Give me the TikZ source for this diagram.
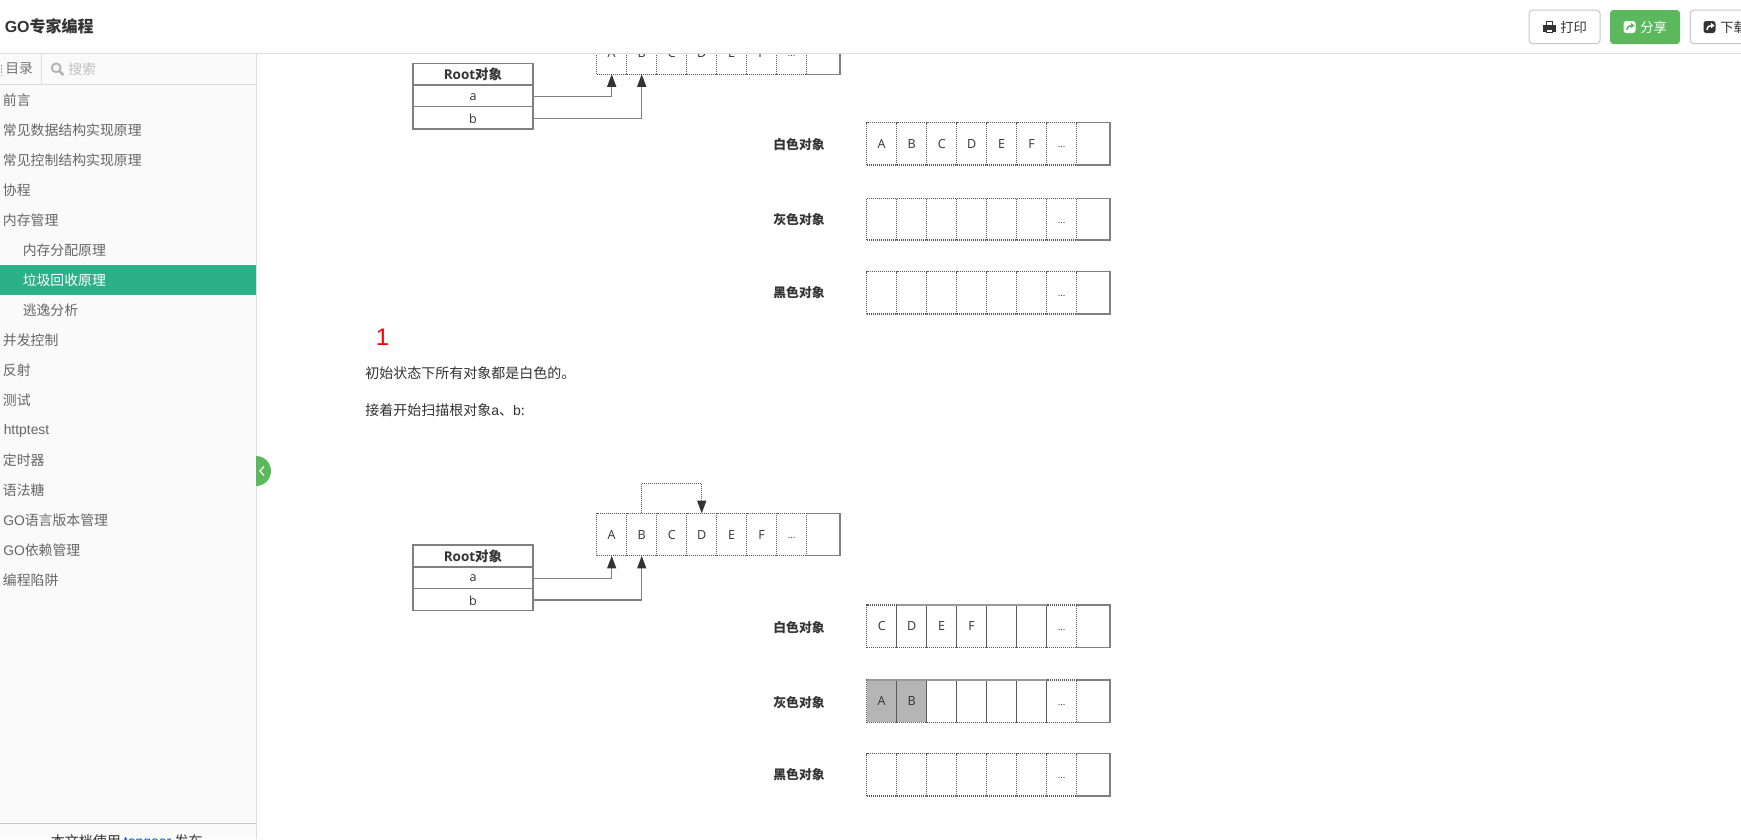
\documentclass[tikz,border=0pt]{standalone}
\usepackage{fontspec}
\setmainfont{Noto Sans CJK SC}
\newfontfamily\lat{Liberation Sans}
\newfontfamily\dia{Open Sans}
\usetikzlibrary{arrows.meta}
\definecolor{txt}{HTML}{333333}
\definecolor{side}{HTML}{FAFAFA}
\definecolor{sidetxt}{HTML}{666666}
\definecolor{rule}{HTML}{DDDDDD}
\definecolor{teal}{HTML}{2CB088}
\definecolor{okgreen}{HTML}{5CB85C}
\definecolor{frame}{HTML}{808080}
\definecolor{lightframe}{HTML}{999999}
\definecolor{dots}{HTML}{5A5A5A}
\definecolor{shade}{HTML}{B5B5B5}
\tikzset{
  cellbase/.style={anchor=north west,inner sep=0pt,outer sep=0pt,text=txt,font=\dia\fontsize{9.4}{11}\selectfont},
  dotcell/.style={cellbase,draw=dots,line width=0.85pt,dash pattern=on 0.8pt off 0.7pt,minimum width=22.5pt},
  graycell/.style={dotcell,fill=shade},
  endcell/.style={cellbase,minimum width=24.9pt},
  endline/.style={draw=frame,line width=0.95pt},
  rootbox/.style={anchor=north west,inner sep=0pt,outer sep=0pt,draw=frame,line width=0.95pt,minimum width=90pt,text=txt},
  ref/.style={draw=frame,line width=0.95pt,-{Triangle[length=9.5pt,width=6.8pt,color=txt]}},
  dotref/.style={draw=dots,line width=0.85pt,dash pattern=on 0.8pt off 0.7pt,-{Triangle[length=9.5pt,width=6.8pt,color=txt]}},
  topline/.style={draw=lightframe,line width=0.95pt},
  rowlabel/.style={inner sep=0pt,text=txt,font=\bfseries\fontsize{9.6}{11}\selectfont},
  item/.style={anchor=west,inner sep=0pt,text=sidetxt,font=\fontsize{10.4}{12}\selectfont},
  para/.style={anchor=west,inner sep=0pt,text=txt,font=\fontsize{10.5}{12}\selectfont},
  btn/.style={draw=#1,rounded corners=2.5pt,line width=0.75pt},
  btntxt/.style={anchor=west,inner sep=0pt,font=\fontsize{10}{12}\selectfont}
}
\newcommand\ellip{{\fontsize{7}{8}\selectfont\rule{0pt}{6pt}...}}
% #1 number of grey cells, #2 name, #3 left x, #4 top y, #5 height px, #6 labels
\newcommand\objrow[6][0]{%
  \foreach \t [count=\i from 0] in {#6}{%
    \pgfmathsetmacro\xx{#3+30*\i}
    \ifnum\i=7
      \node[endcell,minimum height=#5*0.75pt] (#2\i) at (\xx,#4) {\t};
      \draw[endline] (#2\i.north west) -- (#2\i.north east) -- (#2\i.south east) -- (#2\i.south west);
    \else\ifnum\i<#1
      \node[graycell,minimum height=#5*0.75pt] (#2\i) at (\xx,#4) {\t};
    \else
      \node[dotcell,minimum height=#5*0.75pt] (#2\i) at (\xx,#4) {\t};
    \fi\fi
  }%
}
% #1 prefix, #2 top y of root box
\newcommand\rootgroup[2]{%
  \node[rootbox,minimum height=16.4pt,font=\bfseries\fontsize{10.1}{11}\selectfont] (#1root) at (413,#2) {\dia\bfseries Root\normalfont\bfseries 对象};
  \node[rootbox,minimum height=16.2pt,text height=6.6pt,text depth=0pt,font=\dia\fontsize{9.4}{11}\selectfont] (#1a) at (413,#2+21.7) {a};
  \node[rootbox,minimum height=16.8pt,text height=8.6pt,text depth=0pt,font=\dia\fontsize{9.4}{11}\selectfont] (#1b) at (413,#2+43.4) {b};
}
\begin{document}
\begin{tikzpicture}[x=0.75pt,y=-0.75pt]
\useasboundingbox (0,0) rectangle (1741,839);
\clip (0,0) rectangle (1741,839);
\fill[white] (0,0) rectangle (1741,839);

% ---- first figure (cut by the page header)
\objrow{ta}{596.7}{31.7}{42.5}{A,B,C,D,E,F,\ellip,{}}
\rootgroup{t}{63.3}
\draw[ref] ([yshift=-0.5pt]ta.east) -| (ta0.south);
\draw[ref] ([yshift=-0.3pt]tb.east) -| (ta1.south);
\node[rowlabel] (tl1) at (799,145) {白色对象};
\objrow{tw}{866.7}{122.7}{42.3}{A,B,C,D,E,F,\ellip,{}}
\node[rowlabel] (tl2) at (799,220) {灰色对象};
\objrow{tg}{866.7}{198.3}{41.7}{{},{},{},{},{},{},\ellip,{}}
\node[rowlabel] (tl3) at (799,292.5) {黑色对象};
\objrow{tk}{866.7}{271.7}{42.3}{{},{},{},{},{},{},\ellip,{}}

% ---- second figure
\objrow{ba}{596.7}{513.3}{42.5}{A,B,C,D,E,F,\ellip,{}}
\rootgroup{b}{545}
\draw[ref] ([yshift=-0.5pt]ba.east) -| (ba0.south);
\draw[ref] ([yshift=-0.3pt]bb.east) -| (ba1.south);
\draw[dotref] (ba1.north) -- ++(0,-29.7) -| (ba3.north);
\node[rowlabel] (bl1) at (799,627.7) {白色对象};
\objrow{bw}{866.7}{605}{42.3}{C,D,E,F,{},{},\ellip,{}}
\draw[topline] (bw1.north west) -- (bw5.north east);
\node[rowlabel] (bl2) at (799,702.7) {灰色对象};
\objrow[2]{bg}{866.7}{680}{42.3}{A,B,{},{},{},{},\ellip,{}}
\draw[topline] (bg0.north west) -- (bg5.north east);
\node[rowlabel] (bl3) at (799,775) {黑色对象};
\objrow{bk}{866.7}{753.7}{42.3}{{},{},{},{},{},{},\ellip,{}}

% ---- body text
\node[inner sep=0pt,text=red,font=\lat\fontsize{18}{20}\selectfont] (num) at (382.5,337.5) {1};
\node[para] (p1) at (365,373) {初始状态下所有对象都是白色的。};
\node[para] (p2) at (365,410) {接着开始扫描根对象{\lat a}、{\lat b}:};

% ---- sidebar
\fill[side] (0,53) rectangle (256,839);
\draw[rule,line width=0.75pt] (256,53) -- (256,839);
\draw[rule,line width=0.75pt] (0,84.5) -- (41.5,84.5) -- (41.5,53);
\draw[rule,line width=0.75pt] (41.5,84.5) -- (256,84.5);
\fill[teal] (0,265) rectangle (255.6,295);
\draw[sidetxt!60,line width=1.1pt,dash pattern=on 1.2pt off 1.2pt] (1.5,65) -- (1.5,76);
\node[item,text=sidetxt!90] (toc) at (5,69) {目录};
\draw[black!30,line width=1.4pt] (56.2,67.8) circle (4.4);
\draw[black!30,line width=1.8pt] (59.6,71.2) -- (63.4,75);
\node[item,text=black!25] (srch) at (68,69) {搜索};
\node[item] (i1) at (2.7,100) {前言};
\node[item] (i2) at (2.7,130) {常见数据结构实现原理};
\node[item] (i3) at (2.7,160) {常见控制结构实现原理};
\node[item] (i4) at (2.7,190) {协程};
\node[item] (i5) at (2.7,220) {内存管理};
\node[item] (i6) at (22.5,250) {内存分配原理};
\node[item,text=white] (i7) at (22.5,280) {垃圾回收原理};
\node[item] (i8) at (22.5,310) {逃逸分析};
\node[item] (i9) at (2.7,340) {并发控制};
\node[item] (i10) at (2.7,370) {反射};
\node[item] (i11) at (2.7,400) {测试};
\node[item,font=\lat\fontsize{10.4}{12}\selectfont] (i12) at (3.5,431) {httptest};
\node[item] (i13) at (2.7,460) {定时器};
\node[item] (i14) at (2.7,490) {语法糖};
\node[item] (i15) at (3,520) {{\lat GO}语言版本管理};
\node[item] (i16) at (3,550) {{\lat GO}依赖管理};
\node[item] (i17) at (2.7,580) {编程陷阱};
\draw[black!22,line width=0.75pt] (0,823.3) -- (256,823.3);
\node[anchor=west,inner sep=0pt,text=txt,font=\fontsize{10.5}{12}\selectfont] (foot) at (50.5,842) {本文档使用 {\lat\color{blue!60!cyan!80!black} topgoer} 发布};
% sidebar toggle
\fill[okgreen] (256,456) arc[start angle=-90,end angle=90,radius=15] -- cycle;
\draw[white,line width=0.9pt] (264,466.5) -- (260,471) -- (264,475.5);

% ---- page header
\fill[white] (0,0) rectangle (1741,53);
\draw[rule,line width=0.75pt] (0,53.3) -- (1741,53.3);
\node[anchor=west,inner sep=0pt,text=txt,font=\bfseries\fontsize{12}{14}\selectfont] (title) at (4.5,26) {{\lat\bfseries GO}专家编程};

% print button
\draw[btn=black!22] (1529,10.2) rectangle (1600,43.6);
\fill[txt] (1543,24.5) rectangle (1555.5,31.5);
\fill[txt] (1545.5,21) rectangle (1553,25);
\fill[white] (1546.5,22) rectangle (1552,25);
\fill[txt] (1545.5,28.5) rectangle (1553,33);
\fill[white] (1546.5,29.5) rectangle (1552,32);
\node[btntxt,text=txt] (bp) at (1560,27) {打印};
% share button
\fill[okgreen,rounded corners=2.5pt] (1610,10) rectangle (1680,44);
\fill[white,rounded corners=2pt] (1623.5,21) rectangle (1635.5,33);
\draw[okgreen,line width=1.2pt] (1627,30) .. controls (1627.5,26.5) and (1629,25.5) .. (1632,25.5);
\fill[okgreen] (1631,22.8) -- (1634.5,25.6) -- (1631,28.2) -- cycle;
\node[btntxt,text=white] (bs) at (1640,27) {分享};
% download button
\draw[btn=black!22] (1690.3,10.2) rectangle (1760,43.6);
\fill[txt,rounded corners=2pt] (1703.5,21) rectangle (1715.5,33);
\draw[white,line width=1.2pt] (1707,30) .. controls (1707.5,26.5) and (1709,25.5) .. (1712,25.5);
\fill[white] (1711,22.8) -- (1714.5,25.6) -- (1711,28.2) -- cycle;
\node[btntxt,text=txt] (bd) at (1720,27) {下载};
\end{tikzpicture}
\end{document}
